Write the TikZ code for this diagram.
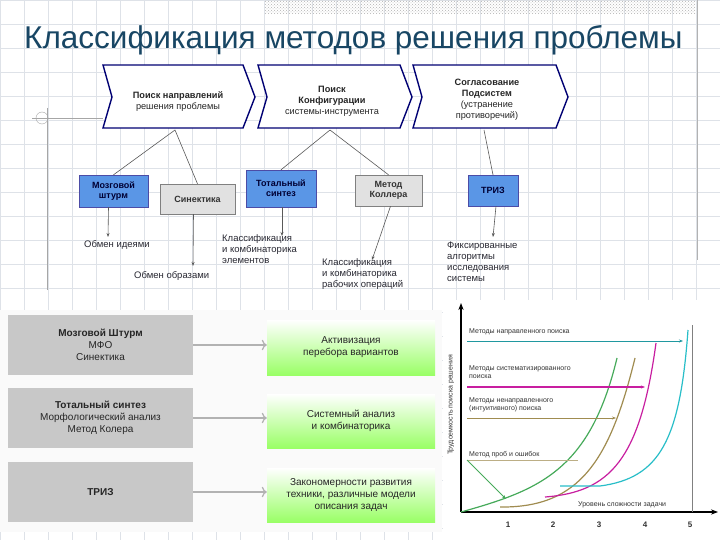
\documentclass[tikz,border=0pt]{standalone}
\usepackage{fontspec}
\setmainfont{Liberation Sans}
\usetikzlibrary{arrows.meta,patterns}
\definecolor{gridc}{RGB}{222,226,232}
\definecolor{titlec}{RGB}{24,70,100}
\definecolor{blueb}{RGB}{90,150,230}
\definecolor{greyb}{RGB}{225,225,225}
\definecolor{panelg}{RGB}{200,200,200}
\definecolor{grn1}{RGB}{70,170,90}
\definecolor{olv}{RGB}{160,140,80}
\definecolor{mag}{RGB}{200,30,160}
\definecolor{cyn}{RGB}{40,190,200}
\definecolor{txt}{RGB}{40,40,50}
\tikzset{
  chev/.style={draw=blue!45!black,line width=1.4pt,fill=white},
  bluebox/.style={draw=blue!50!black!70,fill=blueb,text=blue!20!black,font=\bfseries\fontsize{9}{10}\selectfont,align=center,inner sep=0pt},
  greybox/.style={draw=gray,fill=greyb,text=black!80,font=\bfseries\fontsize{9}{10}\selectfont,align=center,inner sep=0pt},
  lbl/.style={font=\fontsize{9.5}{11}\selectfont,text=txt,align=left,inner sep=0pt},
  conn/.style={draw=gray!70!black,line width=0.6pt},
  darr/.style={conn,-{Stealth[length=4pt]}},
  lgrey/.style={fill=panelg,draw=none,font=\fontsize{10}{12}\selectfont,text=black!85,align=center},
  lgreen/.style={draw=none,top color=white,bottom color=green!55!lime!60,font=\fontsize{10}{12}\selectfont,text=black!85,align=center},
  harr/.style={draw=gray!60,line width=1.2pt,-{To[length=5pt]}},
  ctxt/.style={font=\fontsize{7}{8}\selectfont,text=black!80,anchor=west,inner sep=0pt,align=left},
  chevtxt/.style={font=\bfseries\fontsize{9.2}{11}\selectfont,text=black!85,align=center}
}
\begin{document}
\begin{tikzpicture}[x=1pt,y=-1pt]
\useasboundingbox (0,0) rectangle (720,540);
\fill[white] (0,0) rectangle (720,540);
% grid
\foreach \x in {0,24,...,720} \draw[gridc,line width=0.5pt] (\x,0) -- (\x,540);
\foreach \y in {0,24,...,540} \draw[gridc,line width=0.5pt] (0,\y) -- (720,\y);
\fill[pattern=crosshatch dots,pattern color=gray!60] (265,0) rectangle (695,14);
\draw[gray!60,line width=0.8pt] (697,0) -- (697,260);
\draw[gray!70,line width=0.8pt] (47,108) -- (47,290);
\draw[gray!70,line width=0.8pt] (32,118) -- (103,118);
\draw[gray!70] (42,118) circle (6);
% title
\node[anchor=west,text=titlec,font=\fontsize{31.5}{34}\selectfont,inner sep=0pt] (title) at (24,40) {Классификация методов решения проблемы};
% chevrons
\draw[chev] (103,65) -- (243,65) -- (255,97) -- (243,128) -- (103,128) -- (112,97) -- cycle;
\draw[chev] (258,65) -- (400,65) -- (412,97) -- (400,128) -- (258,128) -- (267,97) -- cycle;
\draw[chev] (413,65) -- (556,65) -- (568,97) -- (556,128) -- (413,128) -- (422,97) -- cycle;
\node[chevtxt] (c1) at (178,102) {Поиск направлений\\{\mdseries решения проблемы}};
\node[chevtxt] (c2) at (332,101) {Поиск\\Конфигурации\\{\mdseries системы-инструмента}};
\node[chevtxt] (c3) at (487,100) {Согласование\\Подсистем\\{\mdseries (устранение}\\{\mdseries противоречий)}};
\coordinate (b1) at (175,130);
\coordinate (b2) at (330,130);
\coordinate (b3) at (484,130);
% small boxes
\node[bluebox,minimum width=69,minimum height=32] (ms) at (113.5,191) {Мозговой\\штурм};
\node[greybox,minimum width=75,minimum height=30] (sn) at (197.5,199) {Синектика};
\node[bluebox,minimum width=70,minimum height=37] (ts) at (281,188.5) {Тотальный\\синтез};
\node[greybox,minimum width=67,minimum height=31] (mk) at (388.5,190.5) {Метод\\Коллера};
\node[bluebox,minimum width=50,minimum height=31] (tr) at (493,190.5) {ТРИЗ};
\draw[conn] (b1) -- (ms.north);
\draw[conn] (b1) -- (sn.north);
\draw[conn] (b2) -- (ts.north);
\draw[conn] (b2) -- (mk.north);
\draw[conn] (b3) -- (tr.north);
% labels
\node[lbl,anchor=north west] (l1) at (84,240) {Обмен идеями};
\node[lbl,anchor=north west] (l2) at (134,271) {Обмен образами};
\node[lbl,anchor=north west] (l3) at (222,234) {Классификация\\и комбинаторика\\элементов};
\node[lbl,anchor=north west] (l4) at (322,258) {Классификация\\и комбинаторика\\рабочих операций};
\node[lbl,anchor=north west] (l5) at (447,242) {Фиксированные\\алгоритмы\\исследования\\системы};
\draw[darr] (ms.south) ++(-5,0) -- (108,237);
\draw[darr] (sn.south) ++(-4,0) -- (193,266);
\draw[darr] (ts.south) ++(1,0) -- (282,236);
\draw[darr] (mk.south) ++(2,0) -- (372,260);
\draw[darr] (tr.south) ++(3,0) -- (493,237);
% bottom-left panel
\fill[white!96!gray] (0,310) rectangle (442,532);
\node[lgrey,minimum width=185,minimum height=60] (g1) at (100.5,345) {\textbf{Мозговой Штурм}\\МФО\\Синектика};
\node[lgrey,minimum width=185,minimum height=60] (g2) at (100.5,418) {\textbf{Тотальный синтез}\\Морфологический анализ\\Метод Колера};
\node[lgrey,minimum width=185,minimum height=60] (g3) at (100.5,492) {\textbf{ТРИЗ}};
\node[lgreen,minimum width=168,minimum height=55] (r1) at (351,347.5) {Активизация\\перебора вариантов};
\node[lgreen,minimum width=168,minimum height=54] (r2) at (351,421) {Системный анализ\\и комбинаторика};
\node[lgreen,minimum width=168,minimum height=54] (r3) at (351,495) {Закономерности развития\\техники, различные модели\\описания задач};
\draw[harr] (g1.east) -- (g1.east -| r1.west);
\draw[harr] (g2.east) -- (g2.east -| r2.west);
\draw[harr] (g3.east) -- (g3.east -| r3.west);
% chart
\fill[white] (443,300) rectangle (720,540);
\coordinate (o) at (461,512);
\coordinate (ytop) at (461,303);
\coordinate (xend) at (718,512);
\draw[black,line width=1.3pt,-{Stealth[length=7pt]}] (o) -- (ytop);
\draw[black,line width=1.3pt,-{Stealth[length=7pt]}] (o) -- (xend);
\draw[gray,line width=0.8pt] (692,325) -- (692,512);
\foreach \x/\n in {508/1,553/2,599/3,645/4,690/5} \node[font=\bfseries\fontsize{8}{9}\selectfont,text=black!80] (t\n) at (\x,525) {\n};
\node[rotate=90,font=\fontsize{7}{8}\selectfont,text=black!80] (yl) at (451,405) {Трудоемкость поиска решения};
\draw[grn1,line width=1.2pt] (461,512) .. controls (540,490) and (590,470) .. (617,358);
\draw[olv,line width=1.2pt] (500,507) .. controls (580,508) and (610,460) .. (635,358);
\draw[mag,line width=1.2pt] (545,497) .. controls (610,492) and (640,460) .. (656,343);
\draw[cyn,line width=1.2pt] (560,486) -- (600,486) .. controls (660,478) and (680,440) .. (688,330);
\node[ctxt] (m1) at (469,332) {Методы направленного поиска};
\node[ctxt,anchor=north west] (m2) at (469,365) {Методы систематизированного\\поиска};
\node[ctxt,anchor=north west] (m3) at (469,397) {Методы ненаправленного\\(интуитивного) поиска};
\node[ctxt] (m4) at (469,455) {Метод проб и ошибок};
\node[ctxt] (m5) at (578,505) {Уровень сложности задачи};
\coordinate (a1) at (467,341); \coordinate (a1e) at (683,341);
\coordinate (a2) at (467,387); \coordinate (a2e) at (645,387);
\coordinate (a3) at (467,418); \coordinate (a3e) at (616,418);
\coordinate (a4) at (467,460); \coordinate (a4e) at (578,460); \coordinate (a4t) at (506,499);
\draw[cyn!80!black,line width=0.9pt,-{Stealth[length=4pt]}] (a1) -- (a1e);
\draw[mag,line width=1.2pt,-{Stealth[length=4pt]}] (a2) -- (a2e);
\draw[olv,line width=0.8pt,-{Stealth[length=4pt]}] (a3) -- (a3e);
\draw[olv!70,line width=0.6pt] (a4) -- (a4e);
\draw[grn1,line width=0.9pt,-{Stealth[length=4pt]}] (a4) -- (a4t);
\end{tikzpicture}
\end{document}
